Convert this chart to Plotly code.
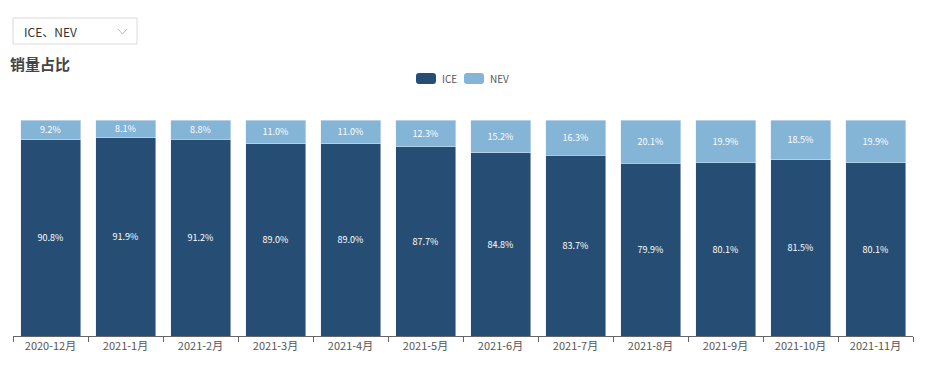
import plotly.graph_objects as go

months = ["2020-12月", "2021-1月", "2021-2月", "2021-3月", "2021-4月", "2021-5月",
          "2021-6月", "2021-7月", "2021-8月", "2021-9月", "2021-10月", "2021-11月"]
ice = [90.8, 91.9, 91.2, 89.0, 89.0, 87.7, 84.8, 83.7, 79.9, 80.1, 81.5, 80.1]
nev = [9.2, 8.1, 8.8, 11.0, 11.0, 12.3, 15.2, 16.3, 20.1, 19.9, 18.5, 19.9]
series_names = ["ICE", "NEV"]

FONT = "Microsoft YaHei, Noto Sans CJK SC, sans-serif"
ICE_C = "#264e74"
NEV_C = "#84b4d6"

PW, PH = 900.0, 216.0  # plot area px
def px(X):  # screen x -> paper
    return (X - 13) / PW
def py(Y):  # screen y -> paper
    return (336 - Y) / PH

fig = go.Figure()
fig.add_trace(go.Bar(x=months, y=ice, name=series_names[0], marker_color=ICE_C,
                     text=[f"{v:.1f}%" for v in ice], textposition="inside",
                     insidetextanchor="middle",
                     textfont=dict(color="white", size=9, family=FONT)))
fig.add_trace(go.Bar(x=months, y=nev, name=series_names[1], marker_color=NEV_C,
                     text=[f"{v:.1f}%" for v in nev], textposition="inside",
                     insidetextanchor="middle",
                     textfont=dict(color="white", size=9, family=FONT)))

fig.update_layout(
    barmode="stack", bargap=0.2,
    width=912, height=352,
    margin=dict(l=5, r=7, t=112, b=24),
    paper_bgcolor="white", plot_bgcolor="white",
    font=dict(family=FONT, size=11, color="#555"),
    uniformtext=dict(minsize=9, mode="show"),
    showlegend=False,
    xaxis=dict(type="category", showline=True, linecolor="#666", linewidth=1,
               ticks="outside", tickson="boundaries", ticklen=5, tickcolor="#666",
               tickfont=dict(size=11, color="#555"), showgrid=False),
    yaxis=dict(range=[0, 100], visible=False, showgrid=False),
)

def rrect(x0, y0, x1, y1, r):
    # screen coords -> rounded rect path in paper coords
    X0, X1 = px(x0), px(x1)
    Y0, Y1 = py(y1), py(y0)  # bottom, top
    rx, ry = r / PW, r / PH
    return (f"M{X0+rx},{Y0} L{X1-rx},{Y0} Q{X1},{Y0} {X1},{Y0+ry} "
            f"L{X1},{Y1-ry} Q{X1},{Y1} {X1-rx},{Y1} L{X0+rx},{Y1} "
            f"Q{X0},{Y1} {X0},{Y1-ry} L{X0},{Y0+ry} Q{X0},{Y0} {X0+rx},{Y0} Z")

# custom legend
for name, col, x0 in [(series_names[0], ICE_C, 416), (series_names[1], NEV_C, 464)]:
    fig.add_shape(type="path", xref="paper", yref="paper",
                  path=rrect(x0, 73, x0 + 20, 84, 3), fillcolor=col, line=dict(width=0))
    fig.add_annotation(xref="paper", yref="paper", x=px(x0 + 24), y=py(78.5),
                       text=name, showarrow=False, xanchor="left", yanchor="middle",
                       font=dict(size=10, color="#555", family=FONT))

# dropdown-like box
fig.add_shape(type="rect", xref="paper", yref="paper",
              x0=px(13), x1=px(137), y0=py(44), y1=py(18),
              line=dict(color="#d9d9d9", width=1), fillcolor="white")
fig.add_annotation(xref="paper", yref="paper", x=px(22), y=py(31),
                   text="ICE、NEV", showarrow=False, xanchor="left", yanchor="middle",
                   font=dict(size=12, color="#333", family=FONT))
fig.add_shape(type="path", xref="paper", yref="paper",
              path=f"M{px(118)},{py(29)} L{px(122.5)},{py(34)} L{px(127)},{py(29)}",
              line=dict(color="#bbb", width=1))
# title
fig.add_annotation(xref="paper", yref="paper", x=px(8), y=py(63),
                   text="<b>销量占比</b>", showarrow=False, xanchor="left", yanchor="middle",
                   font=dict(size=15, color="#444", family=FONT))

fig.write_html("out.html")
